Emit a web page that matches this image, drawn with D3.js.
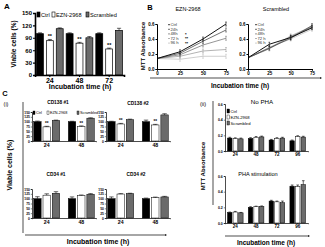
<!DOCTYPE html>
<html>
<head>
<meta charset="utf-8">
<script src="https://cdn.jsdelivr.net/npm/d3@7"></script>
<style>
body{margin:0;background:#fff}
text{font-family:Arial,"Liberation Sans",sans-serif;fill:#000}
</style>
</head>
<body>
<div class="fig"></div>
<script>
// groups used by all the bar panels
var groups = ["Ctrl", "EZN-2968", "Scrambled"];
var groupFill = ["#000", "#fff", "#6b6b6b"];

// panel A - viable cells (%)
var timesA = ["24", "48", "72"];
var ctrlA = [100, 100, 100];
var eznA = [83, 77, 63];
var scrA = [112, 90, 108];
var errCtrlA = [2, 2, 2], errEznA = [3, 2, 2], errScrA = [2, 3, 5];

// panel B - MTT absorbance over time
var timesB = [0, 25, 50, 75];
var linesB = ["Ctrl", "24h", "48h", "72 h", "96 h"];
var starsB = ["", "", "*", "**", "**"];
var eznCtrl = [0.14, 0.23, 0.40, 0.60];
var ezn24 = [0.14, 0.21, 0.37, 0.52];
var ezn48 = [0.14, 0.19, 0.32, 0.41];
var ezn72 = [0.14, 0.17, 0.24, 0.26];
var ezn96 = [0.14, 0.13, 0.17, 0.17];
var scrCtrl = [0.15, 0.33, 0.42, 0.55];
var scr24 = [0.15, 0.28, 0.41, 0.58];
var scr48 = [0.15, 0.27, 0.43, 0.56];
var scr72 = [0.15, 0.28, 0.44, 0.57];
var scr96 = [0.15, 0.29, 0.40, 0.53];

// panel C (i) - primary cells, viable cells (%)
var timesC = ["24", "48"];
var cd138aCtrl = [100, 100], cd138aEzn = [73, 75], cd138aScr = [106, 118];
var cd138bCtrl = [100, 100], cd138bEzn = [88, 83], cd138bScr = [110, 135];
var cd34aCtrl = [100, 100], cd34aEzn = [118, 117], cd34aScr = [128, 123];
var cd34bCtrl = [100, 100], cd34bEzn = [124, 105], cd34bScr = [126, 109];

// panel C (ii) - MTT absorbance
var timesD = ["24", "48", "72", "96"];
var noPhaCtrl = [0.165, 0.16, 0.14, 0.13];
var noPhaEzn = [0.16, 0.175, 0.16, 0.185];
var noPhaScr = [0.155, 0.18, 0.165, 0.178];
var phaCtrl = [0.135, 0.20, 0.28, 0.47];
var phaEzn = [0.14, 0.21, 0.27, 0.465];
var phaScr = [0.13, 0.21, 0.26, 0.49];

var svg = d3.select(".fig").append("svg")
    .attr("width", 325)
    .attr("height", 247);

// generic grouped bar panel
function barPanel(c) {
    var g = svg.append("g");
    var x = d3.scaleBand().domain(c.cats).range([c.x0, c.x1])
        .paddingInner(c.padIn).paddingOuter(c.padOut);
    var xi = d3.scaleBand().domain([0, 1, 2]).range([0, x.bandwidth()])
        .paddingInner(c.barPad);
    var y = d3.scaleLinear().domain([0, c.yMax]).range([c.yBot, c.yTop]);

    c.series.forEach(function (vals, s) {
        var rows = c.cats.map(function (k, i) { return {k: k, v: vals[i], e: c.errs ? c.errs[s][i] : 0}; });
        g.selectAll(null).data(rows).join("rect")
            .attr("x", d => x(d.k) + xi(s))
            .attr("y", d => y(d.v))
            .attr("width", xi.bandwidth())
            .attr("height", d => c.yBot - y(d.v))
            .attr("fill", groupFill[s])
            .attr("stroke", "#000")
            .attr("stroke-width", c.barStroke);
        // error bars
        g.selectAll(null).data(rows.filter(d => d.e > 0)).join("path")
            .attr("d", d => {
                var cx = x(d.k) + xi(s) + xi.bandwidth() / 2, w = xi.bandwidth() * 0.3;
                return "M" + cx + "," + y(d.v) + "V" + y(d.v + d.e) + "M" + (cx - w) + "," + y(d.v + d.e) + "H" + (cx + w);
            })
            .attr("stroke", "#000").attr("stroke-width", 0.6).attr("fill", "none");
        if (c.stars && s === 1) {
            g.selectAll(null).data(rows.filter((d, i) => c.stars[i])).join("text")
                .attr("x", d => x(d.k) + xi(s) + xi.bandwidth() / 2)
                .attr("y", d => y(d.v + d.e) - 1)
                .attr("text-anchor", "middle")
                .attr("fill", "#000")
                .style("font-size", c.starSize + "px")
                .style("font-weight", "bold")
                .text("**");
        }
    });

    var ya = g.append("g").attr("transform", "translate(" + c.x0 + ",0)")
        .call(d3.axisLeft(y).tickValues(c.ticks).tickSize(c.tickLen).tickPadding(1).tickFormat(c.fmt));
    var xa = g.append("g").attr("transform", "translate(0," + c.yBot + ")")
        .call(d3.axisBottom(x).tickSize(c.tickLen).tickPadding(1));
    [ya, xa].forEach(function (a) {
        a.select(".domain").attr("stroke-width", c.axisW);
        a.selectAll(".tick line").attr("stroke-width", c.axisW * 0.7);
    });
    ya.selectAll("text").style("font-size", c.tickSize + "px").style("font-weight", "bold");
    xa.selectAll("text").style("font-size", c.xTickSize + "px").style("font-weight", "bold");
    if (c.title) {
        g.append("text").attr("x", c.titleX).attr("y", c.titleY)
            .attr("text-anchor", "middle")
            .style("font-size", c.titleSize + "px")
            .style("font-weight", c.titleWeight || "bold")
            .text(c.title);
    }
    return g;
}

// generic line panel (panel B)
function linePanel(c) {
    var g = svg.append("g");
    var x = d3.scaleLinear().domain([0, 75]).range([c.x0, c.x1]);
    var y = d3.scaleLinear().domain([0, 0.6]).range([69, 24]);
    var cols = ["#111", "#4a4a4a", "#7a7a7a", "#a0a0a0", "#c2c2c2"];
    var line = d3.line().x((d, i) => x(timesB[i])).y(d => y(d));
    c.series.slice().reverse().forEach(function (vals, r) {
        var s = c.series.length - 1 - r;
        g.append("path").datum(vals).attr("d", line)
            .attr("fill", "none").attr("stroke", cols[s]).attr("stroke-width", s === 0 ? 1 : 0.8);
        g.selectAll(null).data(vals.slice(1)).join("path")
            .attr("d", (d, i) => "M" + (x(timesB[i + 1]) - 0.8) + "," + (y(d) - 2) + "h1.6M" + x(timesB[i + 1]) + "," + (y(d) - 2) + "v4M" + (x(timesB[i + 1]) - 0.8) + "," + (y(d) + 2) + "h1.6")
            .attr("stroke", cols[s]).attr("stroke-width", 0.6);
    });
    var ya = g.append("g").attr("transform", "translate(" + c.x0 + ",0)")
        .call(d3.axisLeft(y).tickValues([0, 0.2, 0.4, 0.6]).tickSize(1.5).tickPadding(1).tickFormat(d3.format(".1f")));
    var xa = g.append("g").attr("transform", "translate(0,69)")
        .call(d3.axisBottom(x).tickValues(timesB).tickSize(1.5).tickPadding(1));
    [ya, xa].forEach(a => a.select(".domain").attr("stroke-width", 1));
    g.selectAll(".tick text").style("font-size", "4.5px").style("font-weight", "bold");
    g.append("text").attr("x", c.titleX).attr("y", 11)
        .attr("text-anchor", "middle").style("font-size", "5.5px").text(c.title);
    // legend
    linesB.forEach(function (n, i) {
        var ly = 26 + i * 4.6;
        g.append("line").attr("x1", c.legX).attr("x2", c.legX + 2).attr("y1", ly - 1.3).attr("y2", ly - 1.3)
            .attr("stroke", cols[i]).attr("stroke-width", 0.8);
        g.append("text").attr("x", c.legX + 2.5).attr("y", ly)
            .style("font-size", "4.2px").style("fill", "#333").text(n);
        if (c.stars && starsB[i]) {
            g.append("text").attr("x", c.legX + 17).attr("y", ly + 0.5)
                .style("font-size", "4px").style("font-weight", "bold").text(starsB[i]);
        }
    });
}

function arrowLine(x1, x2, yy) {
    svg.append("line").attr("x1", x1).attr("x2", x2).attr("y1", yy).attr("y2", yy)
        .attr("stroke", "#000").attr("stroke-width", 0.7);
    svg.append("path").attr("d", "M" + x2 + "," + (yy - 1) + "l2,1l-2,1z").attr("fill", "#000");
}

function label(t, x, y, size, weight, rot) {
    var el = svg.append("text").attr("text-anchor", "middle")
        .style("font-size", size + "px").style("font-weight", weight).text(t);
    if (rot) el.attr("transform", "translate(" + x + "," + y + ") rotate(-90)");
    else el.attr("x", x).attr("y", y);
    return el;
}

// ---------- panel A ----------
label("A", 7, 9, 8, "bold");
barPanel({
    x0: 35, x1: 124, yTop: 13, yBot: 75, yMax: 150, cats: timesA,
    padIn: 0.1, padOut: 0.05, barPad: 0.3,
    series: [ctrlA, eznA, scrA], errs: [errCtrlA, errEznA, errScrA],
    stars: [1, 1, 1], starSize: 5.5,
    ticks: [0, 30, 60, 90, 120, 150], fmt: d3.format("d"),
    tickLen: 2, axisW: 1.6, barStroke: 0.7, tickSize: 6, xTickSize: 7
});
label("Viable cells (%)", 16, 44, 6.5, "bold", true);
label("Incubation  time (h)", 80, 89, 7, "bold");
// legend A
groups.forEach(function (n, i) {
    var lx = [37, 52, 86][i];
    svg.append("rect").attr("x", lx).attr("y", 12).attr("width", 3).attr("height", 5)
        .attr("fill", groupFill[i]).attr("stroke", "#000").attr("stroke-width", 0.6);
    svg.append("text").attr("x", lx + 4).attr("y", 16.6).style("font-size", "5.6px").text(n);
});

// ---------- panel B ----------
label("B", 150, 10, 7.5, "bold");
linePanel({x0: 157, x1: 226, title: "EZN-2968", titleX: 188, legX: 168, stars: true,
    series: [eznCtrl, ezn24, ezn48, ezn72, ezn96]});
linePanel({x0: 248, x1: 312, title: "Scrambled", titleX: 276, legX: 255, stars: false,
    series: [scrCtrl, scr24, scr48, scr72, scr96]});
label("MTT Absorbance", 145, 46, 6, "bold", true);
arrowLine(150, 320, 78);
label("Incubation time (h)", 240, 88, 6.5, "bold");

// ---------- panel C (i) ----------
label("C", 5, 96, 7.5, "bold");
label("(i)", 6, 106, 5.5, "normal");
svg.append("line").attr("x1", 23).attr("x2", 23).attr("y1", 102).attr("y2", 233)
    .attr("stroke", "#000").attr("stroke-width", 0.7);
label("Viable cells (%)", 12, 165, 7, "bold", true);
var smallC = {
    cats: timesC, yMax: 150, padIn: 0.25, padOut: 0.05, barPad: 0.2,
    ticks: [0, 25, 50, 75, 100, 125, 150], fmt: d3.format("d"),
    tickLen: 1.2, axisW: 0.7, barStroke: 0.5, tickSize: 3.3, xTickSize: 5.2,
    titleSize: 4.8, starSize: 4.5
};
function cPanel(extra) { return barPanel(Object.assign({}, smallC, extra)); }
cPanel({x0: 32, x1: 96, yTop: 112, yBot: 141, title: "CD138 #1", titleX: 58, titleY: 104,
    series: [cd138aCtrl, cd138aEzn, cd138aScr], errs: [[3, 2], [3, 3], [2, 2]], stars: [1, 1]});
cPanel({x0: 106, x1: 170, yTop: 112, yBot: 141, title: "CD138 #2", titleX: 138, titleY: 105,
    series: [cd138bCtrl, cd138bEzn, cd138bScr], errs: [[2, 8], [3, 3], [3, 6]], stars: [1, 1]});
cPanel({x0: 32, x1: 96, yTop: 189, yBot: 218, title: "CD34 #1", titleX: 56, titleY: 176,
    series: [cd34aCtrl, cd34aEzn, cd34aScr], errs: [[10, 9], [7, 2], [8, 3]]});
cPanel({x0: 106, x1: 170, yTop: 189, yBot: 218, title: "CD34 #2", titleX: 136, titleY: 176,
    series: [cd34bCtrl, cd34bEzn, cd34bScr], errs: [[9, 3], [2, 3], [2, 3]]});
// legend C(i)
groups.forEach(function (n, i) {
    var lx = [33, 47, 77][i];
    svg.append("rect").attr("x", lx).attr("y", 111).attr("width", 2).attr("height", 3.5)
        .attr("fill", groupFill[i]).attr("stroke", "#000").attr("stroke-width", 0.4);
    svg.append("text").attr("x", lx + 3).attr("y", 114.3).style("font-size", "3.8px").text(n);
});
arrowLine(25, 165, 235);
label("Incubation time (h)", 98, 244, 7, "bold");

// ---------- panel C (ii) ----------
label("(ii)", 203, 106, 5.5, "normal");
svg.append("line").attr("x1", 213).attr("x2", 213).attr("y1", 101).attr("y2", 205)
    .attr("stroke", "#000").attr("stroke-width", 0.7);
label("MTT Absorbance", 205, 166, 6, "bold", true);
var smallD = {
    cats: timesD, yMax: 0.6, padIn: 0.25, padOut: 0.12, barPad: 0.2,
    ticks: [0, 0.2, 0.4, 0.6], fmt: d3.format(".1f"),
    tickLen: 1.2, axisW: 0.7, barStroke: 0.5, tickSize: 3.5, xTickSize: 4.5,
    titleWeight: "normal"
};
function dPanel(extra) { return barPanel(Object.assign({}, smallD, extra)); }
dPanel({x0: 225, x1: 308, yTop: 104, yBot: 151, title: "No PHA", titleX: 262, titleY: 104, titleSize: 6.2,
    series: [noPhaCtrl, noPhaEzn, noPhaScr], errs: [[0.01, 0.01, 0.008, 0.01], [0.008, 0.01, 0.01, 0.01], [0.01, 0.01, 0.01, 0.01]]});
dPanel({x0: 225, x1: 308, yTop: 176, yBot: 223, title: "PHA stimulation", titleX: 258, titleY: 176, titleSize: 5.6,
    series: [phaCtrl, phaEzn, phaScr], errs: [[0.005, 0.008, 0.01, 0.015], [0.008, 0.005, 0.01, 0.02], [0.005, 0.008, 0.02, 0.05]]});
// legend C(ii)
groups.forEach(function (n, i) {
    var ly = 109 + i * 6;
    svg.append("rect").attr("x", 227).attr("y", ly).attr("width", 2.5).attr("height", 4)
        .attr("fill", groupFill[i]).attr("stroke", "#000").attr("stroke-width", 0.4);
    svg.append("text").attr("x", 230.5).attr("y", ly + 3.7).style("font-size", "4.2px").text(n);
});
arrowLine(225, 308, 236);
label("Incubation time (h)", 266, 245, 6.5, "bold");
</script>
</body>
</html>
